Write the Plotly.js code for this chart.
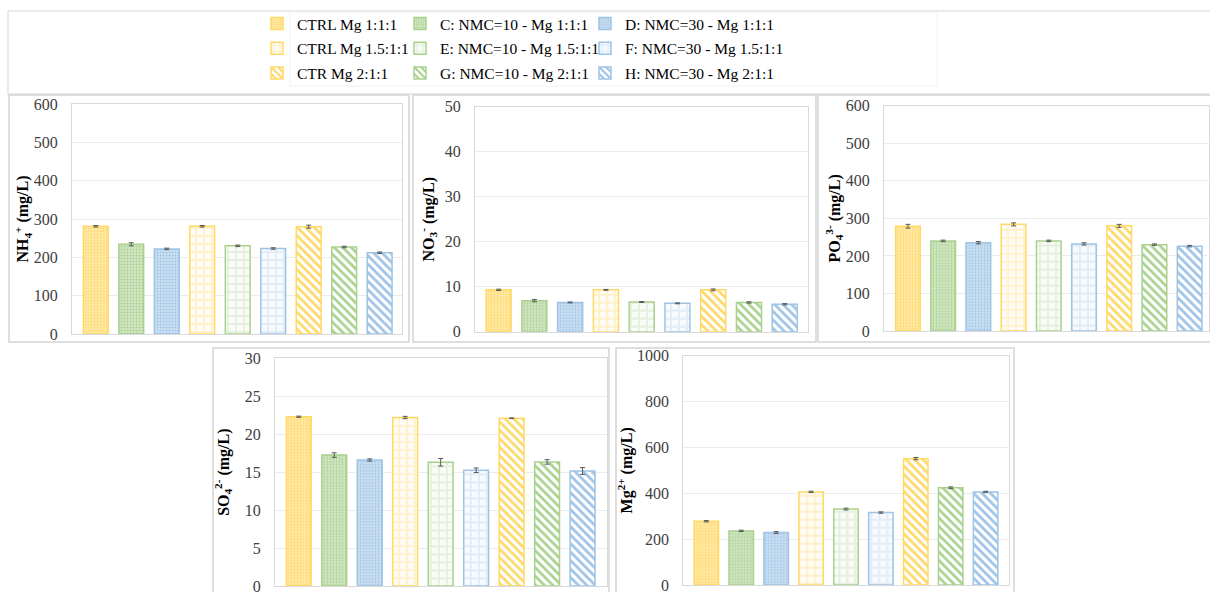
<!DOCTYPE html>
<html><head><meta charset="utf-8">
<script src="https://cdn.plot.ly/plotly-3.0.1.min.js"></script>
<style>html,body{margin:0;padding:0;background:#fff;}#chart{width:1210px;height:592px;}</style>
</head><body><div id="chart"></div>
<script>
// ---- data ----
const categories = ['CTRL Mg 1:1:1','C: NMC=10 - Mg 1:1:1','D: NMC=30 - Mg 1:1:1',
  'CTRL Mg 1.5:1:1','E: NMC=10 - Mg 1.5:1:1','F: NMC=30 - Mg 1.5:1:1',
  'CTR Mg 2:1:1','G: NMC=10 - Mg 2:1:1','H: NMC=30 - Mg 2:1:1'];
const nh4 = [281, 234, 222, 281, 230, 223, 280, 227, 212];
const nh4Err = [2, 4, 2, 2, 2, 2, 4, 2, 2];
const no3 = [9.3, 6.9, 6.5, 9.3, 6.6, 6.3, 9.3, 6.5, 6.1];
const no3Err = [0.15, 0.25, 0.1, 0.1, 0.1, 0.1, 0.2, 0.15, 0.15];
const po4 = [279, 240, 235, 284, 240, 232, 280, 230, 226];
const po4Err = [5, 2, 3, 4, 2, 3, 4, 2, 2];
const so4 = [22.3, 17.25, 16.6, 22.2, 16.3, 15.25, 22.1, 16.35, 15.15];
const so4Err = [0.08, 0.3, 0.15, 0.15, 0.5, 0.3, 0.05, 0.3, 0.45];
const mg = [278, 236, 229, 406, 331, 316, 551, 424, 406];
const mgErr = [3, 3, 4, 3, 4, 3, 5, 4, 3];
const yTitles = ['NH<sub>4</sub><sup>+</sup> (mg/L)','NO<sub>3</sub><sup>-</sup> (mg/L)',
  'PO<sub>4</sub><sup>3-</sup> (mg/L)','SO<sub>4</sub><sup>2-</sup> (mg/L)','Mg<sup>2+</sup> (mg/L)'];
const yMax = [600, 50, 600, 30, 1000];
const yStep = [100, 10, 100, 5, 200];

// ---- styles ----
const W = 1210, H = 592;
const SERIF = '"Liberation Serif", "Times New Roman", Times, serif';
const outline = ['#FFD966','#A9D18E','#9DC3E6'];
const fine = ['#FFE9A9','#D2E6C4','#CDE0F2'];
const plaidBg = ['#FFFCF4','#F9FCF7','#F7FAFD'];
const plaidFg = ['#FFF1CC','#E5F0DE','#E2ECF7'];
function patternFor(i){
  const c = i % 3, row = Math.floor(i / 3);
  if (row === 0) return {shape:'.', fgcolor: outline[c], bgcolor: fine[c], size: 3, solidity: 0.3};
  if (row === 1) return {shape:'+', fgcolor: plaidFg[c], bgcolor: plaidBg[c], size: 8, solidity: 0.4};
  return {shape:'\\', fgcolor: outline[c], bgcolor: '#FFFFFF', size: 6, solidity: 0.45};
}
// plot areas in px: [left, right, top, bottom]
const areas = [[72,402,104,334],[475,808,106.7,331.7],[884,1209,105.7,331],[275,606.7,358.3,586],[683.3,1009,355.7,585]];
const xRanges = [[-0.67,8.63],[-0.66,8.65],[-0.68,8.55],[-0.67,8.68],[-0.66,8.67]];
const standoffs = [0, 6, 1, 11, 0];
const panels = [[nh4,nh4Err],[no3,no3Err],[po4,po4Err],[so4,so4Err],[mg,mgErr]];
const legendIds = ['legend','legend2','legend3'];

const traces = [];
const layout = {
  width: W, height: H, margin:{l:0,r:0,t:0,b:0},
  paper_bgcolor:'#FFFFFF', plot_bgcolor:'#FFFFFF',
  barmode:'overlay', bargap: 0.3,
  font:{family: SERIF, color:'#404040', size:16},
  showlegend:true, shapes:[]
};
panels.forEach((p, k) => {
  const ax = k === 0 ? '' : String(k + 1);
  const [vals, errs] = p;
  categories.forEach((name, i) => {
    traces.push({
      type:'bar', x:[name], y:[vals[i]], name: name,
      xaxis:'x' + ax, yaxis:'y' + ax, width: 0.7,
      legendgroup: name, showlegend: k === 0, legend: legendIds[i % 3],
      marker:{color: outline[i % 3], pattern: patternFor(i), line:{color: outline[i % 3], width: 1.5}},
      error_y:{type:'data', array:[errs[i]], visible:true, color:'#595959', thickness:1, width:2.5},
      hoverinfo:'y'
    });
  });
  const a = areas[k];
  layout['xaxis' + ax] = {
    domain:[a[0]/W, a[1]/W], anchor:'y' + ax, type:'category', range: xRanges[k],
    showticklabels:false, ticks:'', showgrid:false, zeroline:false,
    showline:true, mirror:true, linecolor:'#D9D9D9', linewidth:1, fixedrange:true
  };
  layout['yaxis' + ax] = {
    domain:[1 - a[3]/H, 1 - a[2]/H], anchor:'x' + ax, range:[0, yMax[k]], dtick: yStep[k],
    showgrid:true, gridcolor:'#EBEBEB', gridwidth:1, zeroline:false,
    showline:true, mirror:true, linecolor:'#D9D9D9', linewidth:1,
    ticks:'', ticklabelstandoff: 10, ticklabeloverflow:'allow',
    tickfont:{family: SERIF, size:16, color:'#404040'},
    title:{text: '<b>' + yTitles[k] + '</b>', standoff: standoffs[k],
      font:{family: SERIF, size:16, color:'#000000'}},
    fixedrange:true
  };
});

// panel frames
const boxes = [[8,11,1215,94,'#E2E4EA'],[9,95,409,342,'#D4D4D4'],[413,95,816,342,'#D4D4D4'],
  [818,95,1215,342,'#D4D4D4'],[213,348,609,600,'#D4D4D4'],[616,348,1014,600,'#D4D4D4']];
boxes.forEach(b => layout.shapes.push({type:'rect', xref:'paper', yref:'paper', layer:'below',
  x0:b[0]/W, x1:b[2]/W, y0:1 - b[3]/H, y1:1 - b[1]/H, line:{color:b[4], width:1.5}, fillcolor:'rgba(0,0,0,0)'}));
layout.shapes.push({type:'rect', xref:'paper', yref:'paper', layer:'below',
  x0:290/W, x1:937/W, y0:1 - 86/H, y1:1 - 12/H, line:{color:'#F2F2F2', width:1}, fillcolor:'rgba(0,0,0,0)'});

const legX = [257, 400, 585];
legendIds.forEach((id, c) => {
  layout[id] = {x: legX[c]/W, xanchor:'left', y: 1 - 7/H, yanchor:'top', orientation:'v',
    bgcolor:'rgba(0,0,0,0)', borderwidth:0, tracegroupgap: 1.5,
    font:{family: SERIF, size:15.5, color:'#000000'}};
});

Plotly.newPlot('chart', traces, layout, {staticPlot:true});
</script></body></html>
